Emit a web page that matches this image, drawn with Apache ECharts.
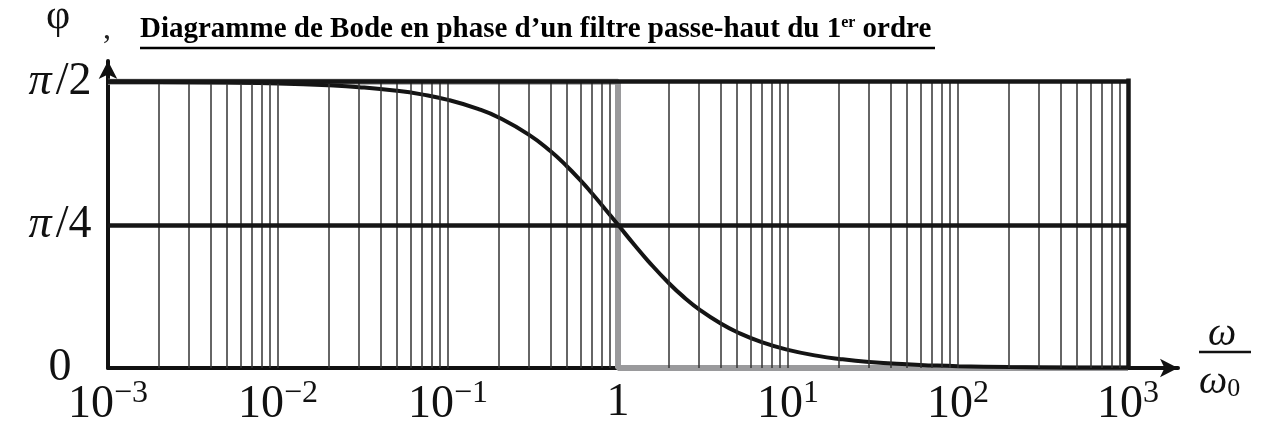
<!DOCTYPE html>
<html>
<head>
<meta charset="utf-8">
<script src="https://cdn.jsdelivr.net/npm/echarts@6/dist/echarts.min.js"></script>
<style>html,body{margin:0;padding:0;background:#fff;}#c{width:1263px;height:428px;}</style>
</head>
<body>
<div id="c"></div>
<script>
// ---- data ----
var curveX = [0.001, 0.002, 0.005, 0.01, 0.02, 0.03, 0.05, 0.07, 0.1, 0.15, 0.2, 0.3, 0.4, 0.5, 0.6, 0.7, 0.8, 1, 1.25, 1.5, 2, 2.5, 3, 4, 5, 7, 10, 15, 20, 30, 50, 70, 100, 200, 500, 1000];
var curvePhiDeg = [89.94, 89.89, 89.71, 89.43, 88.85, 88.28, 87.14, 86.0, 84.29, 81.47, 78.69, 73.3, 68.2, 63.43, 59.04, 55.01, 51.34, 45, 38.66, 33.69, 26.57, 21.8, 18.43, 14.04, 11.31, 8.13, 5.71, 3.81, 2.86, 1.91, 1.15, 0.82, 0.57, 0.29, 0.11, 0.06];
var asymX = [0.001, 1, 1, 1000];
var asymPhiDeg = [90, 90, 0, 0];
var decades = [0.001, 0.01, 0.1, 1, 10, 100];
var multipliers = [2, 3, 4, 5, 6, 7, 8, 9, 10];
var xTickValues = [0.001, 0.01, 0.1, 1, 10, 100, 1000];
var xTickBase = ['10', '10', '10', '1', '10', '10', '10'];
var xTickExp = ['−3', '−2', '−1', '', '1', '2', '3'];
var yTickValues = [0, 45, 90];
var yTickLabels = ['0', 'π/4', 'π/2'];
var titleMain = 'Diagramme de Bode en phase d’un filtre passe-haut du 1';
var titleSup = 'er';
var titleEnd = ' ordre';

// ---- build ----
var curveData = curveX.map(function (x, i) { return [x, curvePhiDeg[i]]; });
var asymData = asymX.map(function (x, i) { return [x, asymPhiDeg[i]]; });
var minorLines = [];
decades.forEach(function (d) {
  multipliers.forEach(function (m) {
    var v = +(d * m).toPrecision(6);
    if (v !== 1 && v !== 1000) minorLines.push({ xAxis: v });
  });
});
var serif = '"Liberation Serif", "DejaVu Serif", serif';

var chart = echarts.init(document.getElementById('c'), null, { renderer: 'canvas' });
var option = {
  animation: false,
  backgroundColor: '#fff',
  grid: { left: 108, right: 85, top: 61, bottom: 58 },
  xAxis: {
    type: 'log', logBase: 10, min: 0.001, max: 1968,
    axisLine: { show: true, lineStyle: { color: '#111', width: 4 }, symbol: ['none', 'arrow'], symbolSize: [14, 18] },
    axisTick: { show: false },
    splitLine: { show: false },
    axisLabel: {
      showMaxLabel: false, margin: 10,
      formatter: function (v) {
        for (var i = 0; i < xTickValues.length; i++) {
          if (Math.abs(Math.log10(v) - Math.log10(xTickValues[i])) < 1e-6) {
            return '{b|' + xTickBase[i] + '}' + (xTickExp[i] ? '{s|' + xTickExp[i] + '}' : '');
          }
        }
        return '';
      },
      rich: {
        b: { fontFamily: serif, fontSize: 46, color: '#111', lineHeight: 50 },
        s: { fontFamily: serif, fontSize: 32, color: '#111', verticalAlign: 'top', padding: [0, 0, 22, 0] }
      }
    }
  },
  yAxis: {
    type: 'value', min: 0, max: 96.5, interval: 45,
    axisLine: { show: true, lineStyle: { color: '#111', width: 4 }, symbol: ['none', 'arrow'], symbolSize: [14, 18] },
    axisTick: { show: false },
    splitLine: { show: false },
    axisLabel: {
      showMaxLabel: false, margin: 48, align: 'center',
      formatter: function (v) {
        var i = yTickValues.indexOf(v);
        if (i < 0) return '';
        var t = yTickLabels[i];
        if (t.charAt(0) === 'π') return '{p|π}{n|' + t.slice(1) + '}';
        return '{n|' + t + '}';
      },
      rich: {
        p: { fontFamily: serif, fontSize: 46, fontStyle: 'italic', color: '#111', padding: [0, 4, 0, 0] },
        n: { fontFamily: serif, fontSize: 46, color: '#111' }
      }
    }
  },
  series: [
    {
      type: 'line', data: [], z: 1, silent: true,
      markLine: {
        silent: true, symbol: ['none', 'none'], label: { show: false },
        lineStyle: { color: '#333', width: 1.5, type: 'solid' },
        data: minorLines.map(function (m) {
          return [{ coord: [m.xAxis, 0] }, { coord: [m.xAxis, 90] }];
        })
      }
    },
    {
      type: 'line', data: [], z: 2, silent: true,
      markLine: {
        silent: true, symbol: ['none', 'none'], label: { show: false },
        lineStyle: { color: '#161616', width: 4.5, type: 'solid' },
        data: [
          [{ coord: [0.001, 90] }, { coord: [1000, 90] }],
          [{ coord: [0.001, 45] }, { coord: [1000, 45] }],
          [{ coord: [1000, 0] }, { coord: [1000, 91] }]
        ]
      }
    },
    {
      type: 'line', data: asymData, z: 3, silent: true, showSymbol: false,
      lineStyle: { color: '#9a9a9c', width: 6 }
    },
    {
      type: 'line', data: curveData, z: 4, silent: true, showSymbol: false, smooth: true,
      lineStyle: { color: '#141414', width: 4 }
    }
  ],
  graphic: [
    {
      type: 'text', left: 140, top: 15, z: 10,
      style: {
        text: '{t|' + titleMain + '}{s|' + titleSup + '}{t|' + titleEnd + '}',
        rich: {
          t: { fontFamily: serif, fontWeight: 'bold', fontSize: 29, fill: '#000' },
          s: { fontFamily: serif, fontWeight: 'bold', fontSize: 16, fill: '#000', verticalAlign: 'top', padding: [0, 0, 12, 0] }
        }
      }
    },
    { type: 'line', z: 10, shape: { x1: 140, y1: 48, x2: 935, y2: 48 }, style: { stroke: '#000', lineWidth: 2.5 } },
    { type: 'text', left: 46, top: -4, z: 10, style: { text: 'φ', fontFamily: serif, fontSize: 42, fill: '#111' } },
    { type: 'text', left: 103, top: 14, z: 10, style: { text: ',', fontFamily: serif, fontSize: 32, fill: '#222' } },
    { type: 'text', left: 1208, top: 314, z: 10, style: { text: 'ω', fontFamily: serif, fontSize: 40, fontStyle: 'italic', fill: '#111' } },
    { type: 'line', z: 10, shape: { x1: 1199, y1: 352, x2: 1251, y2: 352 }, style: { stroke: '#111', lineWidth: 2.5 } },
    {
      type: 'text', left: 1199, top: 362, z: 10,
      style: {
        text: '{w|ω}{z|0}',
        rich: {
          w: { fontFamily: serif, fontSize: 40, fontStyle: 'italic', fill: '#111' },
          z: { fontFamily: serif, fontSize: 26, fill: '#111', verticalAlign: 'bottom', padding: [14, 0, 0, 0] }
        }
      }
    }
  ]
};
chart.setOption(option);
</script>
</body>
</html>
